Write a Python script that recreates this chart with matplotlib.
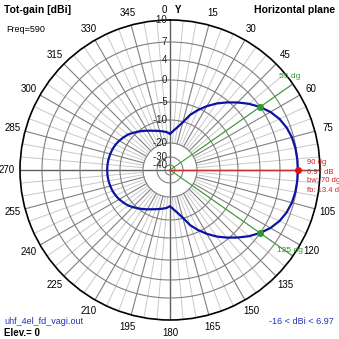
import numpy as np
import matplotlib
matplotlib.use('Agg')
import matplotlib.pyplot as plt

plt.rcParams['font.family'] = ['Liberation Sans', 'DejaVu Sans']

# pattern (horizontal plane), angle in degrees clockwise from Y, gain in dBi
angles = list(range(0, 365, 5))
gain = [-16.0, -14.6, -12.8, -10.3, -7.6, -5.5, -3.7, -2.0, -0.4, 1.1, 2.6, 3.97, 5.0, 5.8, 6.35, 6.7, 6.88, 6.95,
        6.97,
        6.95, 6.88, 6.7, 6.35, 5.8, 5.0, 3.97, 2.6, 1.1, -0.4, -2.0, -3.7, -5.5, -7.6, -10.3, -12.8, -14.6,
        -16.0, -15.2, -14.7, -14.2, -13.6, -12.9, -12.0, -11.0, -10.0, -9.3, -8.6, -8.1, -7.6, -7.2, -6.9, -6.7, -6.55, -6.46,
        -6.43,
        -6.46, -6.55, -6.7, -6.9, -7.2, -7.6, -8.1, -8.6, -9.3, -10.0, -11.0, -12.0, -12.9, -13.6, -14.2, -14.7, -15.2,
        -16.0]

ring_levels = [10, 7, 4, 0, -5, -10, -20, -30, -40]
ring_labels = ['10', '7', '4', '0', '-5', '-10', '-20', '-30', '-40']
angle_ticks = [15, 30, 45, 60, 75, 105, 120, 135, 150, 165, 180, 195, 210, 225, 240, 255, 270, 285, 300, 315, 330, 345]

max_dir, max_gain = 90, 6.97
bw_dirs = [55, 125]
bw_gain = 3.97

# radial scale of the chart (dB -> pixels from centre)
scale_db = [-60, -40, -30, -20, -10, -5, 0, 4, 7, 10, 30]
scale_px = [0, 5, 13, 27, 50, 68, 90, 110, 128, 150, 290]

def fwd(v):
    return np.interp(v, scale_db, scale_px)

def inv(v):
    return np.interp(v, scale_px, scale_db)

W = 339
fig = plt.figure(figsize=(3.39, 3.39), dpi=100)
cx, cy, R = 170, 170, 150
ax = fig.add_axes([(cx - R) / W, (W - cy - R) / W, 2 * R / W, 2 * R / W], projection='polar')
ax.set_theta_zero_location('N')
ax.set_theta_direction(-1)
ax.set_rscale('function', functions=(fwd, inv))
ax.set_rlim(-60, 10)
ax.set_xticks([])
ax.set_yticks([])
ax.grid(False)
ax.spines['polar'].set_color('black')
ax.spines['polar'].set_linewidth(1.2)

th = np.linspace(0, 2 * np.pi, 361)
dark = '#808080'
light = '#c8c8c8'
for a in range(0, 360, 5):
    t = np.radians(a)
    if a % 15:
        ax.plot([t, t], [-20, 10], color=light, lw=0.7, zorder=1)
for a in range(0, 360, 15):
    t = np.radians(a)
    if a % 90:
        ax.plot([t, t], [-20, 10], color=dark, lw=0.8, zorder=2)
    else:
        ax.plot([t, t], [-60, 10], color='#606060', lw=1.0, zorder=2)
for lv in ring_levels[1:]:
    ax.plot(th, np.full_like(th, lv), color=dark, lw=0.8, zorder=2)

# markers
for d in bw_dirs:
    ax.plot([np.radians(d)] * 2, [-60, 9.8], color='#3a9a3a', lw=0.8, zorder=3)
ax.plot([np.radians(max_dir)] * 2, [-60, 8.0], color='#c83030', lw=1.0, zorder=3)

ax.plot(np.radians(angles), gain, color='#0a14a0', lw=1.6, zorder=4)
ax.plot(np.radians(bw_dirs), [bw_gain] * 2, 'o', color='#2a9a2a', ms=4, zorder=5)
ax.plot([np.radians(max_dir)], [max_gain], 'o', color='#e01010', ms=4, zorder=5)

for lv, lb in zip(ring_levels, ring_labels):
    ax.text(0, lv, lb + ' ', ha='right', va='center', fontsize=7, color='#202020', zorder=6)

for a in angle_ticks:
    t = np.radians(a)
    rr = 163
    x = cx + rr * np.sin(t)
    y = cy - rr * np.cos(t)
    fig.text(x / W, 1 - y / W, str(a), ha='center', va='center', fontsize=7)
fig.text(164 / W, 1 - 10 / W, '0', ha='center', va='center', fontsize=7)
fig.text(178 / W, 1 - 10 / W, 'Y', ha='center', va='center', fontsize=7, fontweight='bold')

fig.text(290 / W, 1 - 76 / W, '55 dg', ha='center', va='center', fontsize=6, color='#2a9a2a')
fig.text(290 / W, 1 - 250 / W, '125 dg', ha='center', va='center', fontsize=6, color='#2a9a2a')
red_lines = ['90 dg', '6.97 dB', 'bw: 70 dg', 'fb: 13.4 dB']
for i, s in enumerate(red_lines):
    fig.text(307 / W, 1 - (163 + 9 * i) / W, s, ha='left', va='center', fontsize=5.5, color='#d02020')

fig.text(4 / W, 1 - 10 / W, 'Tot-gain [dBi]', ha='left', va='center', fontsize=7.5, fontweight='bold')
fig.text(6 / W, 1 - 30 / W, 'Freq=590', ha='left', va='center', fontsize=6.5)
fig.text(335 / W, 1 - 10 / W, 'Horizontal plane', ha='right', va='center', fontsize=7.5, fontweight='bold')
fig.text(4 / W, 1 - 322 / W, 'uhf_4el_fd_vagi.out', ha='left', va='center', fontsize=6.5, color='#2030c0')
fig.text(4 / W, 1 - 333 / W, 'Elev.= 0', ha='left', va='center', fontsize=7, fontweight='bold')
fig.text(334 / W, 1 - 322 / W, '-16 < dBi < 6.97', ha='right', va='center', fontsize=6.5, color='#2030c0')

fig.savefig('out.png', dpi=100)
